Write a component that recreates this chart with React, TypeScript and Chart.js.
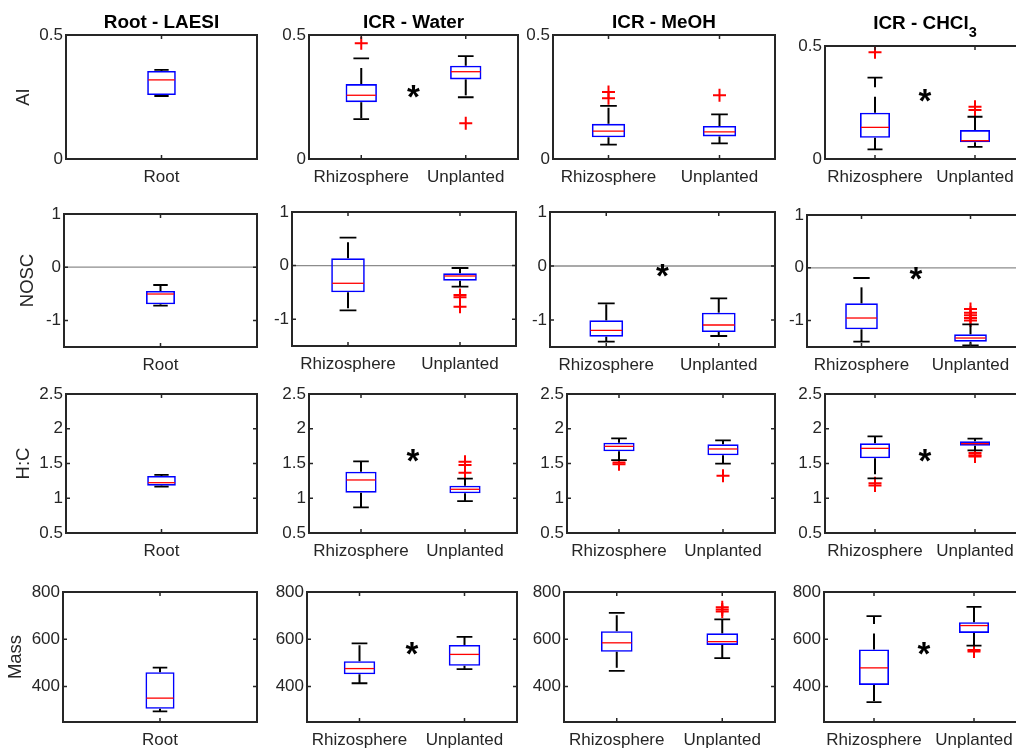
import { useEffect, useRef } from 'react';
import { Chart, registerables } from 'chart.js';

Chart.register(...registerables);

const FONT = '"Liberation Sans", Arial, Helvetica, sans-serif';
const INK = '#262626';

// ---- categories ----
const ROOT_GROUPS = ['Root'];
const ICR_GROUPS = ['Rhizosphere', 'Unplanted'];

// ---- column titles (the subscript part is drawn smaller and lower) ----
const COLUMN_TITLES = ['Root - LAESI', 'ICR - Water', 'ICR - MeOH', 'ICR - CHCl'];
const COLUMN_SUBSCRIPTS = ['', '', '', '3'];

// ---- rows: metric name, y limits, tick labels ----
const METRICS = ['AI', 'NOSC', 'H:C', 'Mass'];
const Y_MIN = [0, -1.5, 0.5, 250];
const Y_MAX = [0.5, 1, 2.5, 800];
const AI_TICKS = [0, 0.5];
const NOSC_TICKS = [-1, 0, 1];
const HC_TICKS = [0.5, 1, 1.5, 2, 2.5];
const MASS_TICKS = [400, 600, 800];
const NOSC_REFERENCE = 0;

// Box statistics, one entry per group: [lower whisker, Q1, median, Q3, upper whisker]
const AI_ROOT = [[0.254, 0.258, 0.319, 0.355, 0.359]];
const AI_WATER = [[0.161, 0.229, 0.257, 0.302, 0.406], [0.249, 0.321, 0.352, 0.376, 0.415]];
const AI_MEOH = [[0.058, 0.0875, 0.112, 0.142, 0.214], [0.063, 0.091, 0.109, 0.133, 0.18]];
const AI_CHCL3 = [[0.043, 0.094, 0.14, 0.205, 0.36], [0.054, 0.074, 0.081, 0.128, 0.187]];

const NOSC_ROOT = [[-0.723, -0.698, -0.504, -0.447, -0.335]];
const NOSC_WATER = [[-0.834, -0.498, -0.33, 0.136, 0.521], [-0.393, -0.281, -0.194, -0.144, -0.045]];
const NOSC_MEOH = [[-1.401, -1.309, -1.191, -1.006, -0.691], [-1.296, -1.222, -1.093, -0.864, -0.599]];
const NOSC_CHCL3 = [[-1.4, -1.165, -0.951, -0.673, -0.193], [-1.468, -1.4, -1.33, -1.26, -1.07]];

const HC_ROOT = [[1.166, 1.181, 1.224, 1.32, 1.335]];
const HC_WATER = [[0.87, 1.08, 1.263, 1.382, 1.532], [0.96, 1.071, 1.129, 1.181, 1.281]];
const HC_MEOH = [[1.55, 1.675, 1.747, 1.8, 1.862], [1.497, 1.618, 1.709, 1.776, 1.834]];
const HC_CHCL3 = [[1.287, 1.575, 1.718, 1.79, 1.891], [1.69, 1.756, 1.785, 1.819, 1.857]];

const MASS_ROOT = [[295, 306, 351, 461, 480]];
const MASS_WATER = [[414, 452, 476, 507, 583], [474, 488, 536, 576, 610]];
const MASS_MEOH = [[466, 547, 585, 634, 712], [520, 576, 590, 625, 684]];
const MASS_CHCL3 = [[334, 407, 479, 557, 698], [573, 627, 658, 672, 737]];

// Outliers, one list per group
const AI_ROOT_OUT = [[]];
const AI_WATER_OUT = [[0.467], [0.144]];
const AI_MEOH_OUT = [[0.27, 0.245], [0.257]];
const AI_CHCL3_OUT = [[0.472], [0.231, 0.217]];

const NOSC_ROOT_OUT = [[]];
const NOSC_WATER_OUT = [[], [-0.549, -0.592, -0.767]];
const NOSC_MEOH_OUT = [[], []];
const NOSC_CHCL3_OUT = [[], [-0.78, -0.85, -0.9, -0.95, -1.0]];

const HC_ROOT_OUT = [[]];
const HC_WATER_OUT = [[], [1.526, 1.48, 1.368]];
const HC_MEOH_OUT = [[1.514, 1.49], [1.325]];
const HC_CHCL3_OUT = [[1.215, 1.185], [1.65, 1.62, 1.6]];

const MASS_ROOT_OUT = [[]];
const MASS_WATER_OUT = [[], []];
const MASS_MEOH_OUT = [[], [736, 726, 717]];
const MASS_CHCL3_OUT = [[], [555, 548]];

// Significance asterisks between the two groups (null = none)
const AI_STARS = [null, 0.274, null, 0.283];
const NOSC_STARS = [null, null, -0.09, -0.1];
const HC_STARS = [null, 1.608, null, 1.608];
const MASS_STARS = [null, 563, null, 563];

type Spec = {
  groups: string[];
  boxes: number[][];
  outliers: number[][];
  star: number | null;
  ticks: number[];
  min: number;
  max: number;
  ref: number | null;
  boxWidth: number;
};

function rowSpecs(
  row: number,
  ticks: number[],
  boxes: number[][][],
  outs: number[][][],
  stars: (number | null)[],
  ref: number | null
): Spec[] {
  return boxes.map((b, col) => ({
    groups: col === 0 ? ROOT_GROUPS : ICR_GROUPS,
    boxes: b,
    outliers: outs[col],
    star: stars[col],
    ticks,
    min: Y_MIN[row],
    max: Y_MAX[row],
    ref,
    boxWidth: col === 0 ? 0.15 : 0.3,
  }));
}

const PANELS: Spec[][] = [
  rowSpecs(0, AI_TICKS, [AI_ROOT, AI_WATER, AI_MEOH, AI_CHCL3], [AI_ROOT_OUT, AI_WATER_OUT, AI_MEOH_OUT, AI_CHCL3_OUT], AI_STARS, null),
  rowSpecs(1, NOSC_TICKS, [NOSC_ROOT, NOSC_WATER, NOSC_MEOH, NOSC_CHCL3], [NOSC_ROOT_OUT, NOSC_WATER_OUT, NOSC_MEOH_OUT, NOSC_CHCL3_OUT], NOSC_STARS, NOSC_REFERENCE),
  rowSpecs(2, HC_TICKS, [HC_ROOT, HC_WATER, HC_MEOH, HC_CHCL3], [HC_ROOT_OUT, HC_WATER_OUT, HC_MEOH_OUT, HC_CHCL3_OUT], HC_STARS, null),
  rowSpecs(3, MASS_TICKS, [MASS_ROOT, MASS_WATER, MASS_MEOH, MASS_CHCL3], [MASS_ROOT_OUT, MASS_WATER_OUT, MASS_MEOH_OUT, MASS_CHCL3_OUT], MASS_STARS, null),
];

// Plot-area rectangles on the page: [left, top, right, bottom]
const PLOT_RECTS = [
  [[66, 35, 257, 159], [309, 35, 518, 159], [553, 35, 775, 159], [825, 46, 1025, 159]],
  [[64, 214, 257, 347], [292, 212, 516, 346], [550, 212, 775, 347], [807, 215, 1025, 347]],
  [[66, 394, 257, 533], [309, 394, 517, 533], [567, 394, 775, 533], [825, 394, 1025, 533]],
  [[63, 592, 257, 722], [307, 592, 517, 722], [564, 592, 775, 722], [824, 592, 1024, 722]],
];
const Y_TITLE_DIST = [42.5, 36.5, 42, 47.3];
const TITLE_BASELINE = [28, 28, 28, 29];
const PAD_L = 60;
const PAD_R = 10;
const PAD_B = 32;

function Panel({ row, col }: { row: number; col: number }) {
  const ref = useRef<HTMLCanvasElement | null>(null);
  const [l, t, r, b] = PLOT_RECTS[row][col];
  const padT = row === 0 ? t : 14;
  const w = r - l + PAD_L + PAD_R;
  const h = b - t + padT + PAD_B;

  useEffect(() => {
    const canvas = ref.current;
    if (!canvas) return;
    const spec = PANELS[row][col];
    const groups = spec.groups;
    const outlierPoints: { x: string; y: number }[] = [];
    spec.outliers.forEach((list, gi) => list.forEach((v) => outlierPoints.push({ x: groups[gi], y: v })));

    const decor = {
      id: 'boxDecor',
      beforeDatasetsDraw(chart: any) {
        if (spec.ref == null) return;
        const { ctx, chartArea: a } = chart;
        const py = chart.scales.y.getPixelForValue(spec.ref);
        ctx.save();
        ctx.strokeStyle = '#8c8c8c';
        ctx.lineWidth = 1.3;
        ctx.beginPath();
        ctx.moveTo(a.left, py);
        ctx.lineTo(a.right, py);
        ctx.stroke();
        ctx.restore();
      },
      afterDatasetsDraw(chart: any) {
        const { ctx } = chart;
        const x = chart.scales.x;
        const y = chart.scales.y;
        const bars = chart.getDatasetMeta(0).data;
        ctx.save();
        spec.boxes.forEach((s, i) => {
          const bar = bars[i];
          const cx = bar.x;
          const half = bar.width / 2;
          const [lo, q1, med, q3, hi] = s.map((v) => y.getPixelForValue(v));
          ctx.strokeStyle = '#000';
          ctx.lineWidth = 2;
          ctx.setLineDash([16, 9.5]);
          ctx.beginPath();
          ctx.moveTo(cx, q3);
          ctx.lineTo(cx, hi);
          ctx.stroke();
          ctx.beginPath();
          ctx.moveTo(cx, q1);
          ctx.lineTo(cx, lo);
          ctx.stroke();
          ctx.setLineDash([]);
          ctx.lineWidth = 1.8;
          ctx.beginPath();
          ctx.moveTo(cx - half / 2, hi);
          ctx.lineTo(cx + half / 2, hi);
          ctx.moveTo(cx - half / 2, lo);
          ctx.lineTo(cx + half / 2, lo);
          ctx.stroke();
          ctx.strokeStyle = '#ff0000';
          ctx.lineWidth = 1.3;
          ctx.beginPath();
          ctx.moveTo(cx - half + 1, med);
          ctx.lineTo(cx + half - 1, med);
          ctx.stroke();
        });
        if (spec.star != null) {
          ctx.font = `bold 33px ${FONT}`;
          ctx.fillStyle = '#000';
          ctx.textAlign = 'center';
          ctx.textBaseline = 'alphabetic';
          const m = ctx.measureText('*');
          const px = x.getPixelForValue(0.5);
          const py = y.getPixelForValue(spec.star);
          ctx.fillText('*', px, py + (m.actualBoundingBoxAscent - m.actualBoundingBoxDescent) / 2);
        }
        ctx.restore();
      },
      afterDraw(chart: any) {
        const { ctx, chartArea: a } = chart;
        const x = chart.scales.x;
        const y = chart.scales.y;
        ctx.save();
        ctx.strokeStyle = INK;
        ctx.lineWidth = 1.5;
        ctx.beginPath();
        y.ticks.forEach((tk: any) => {
          const py = y.getPixelForValue(tk.value);
          ctx.moveTo(a.left, py);
          ctx.lineTo(a.left + 4, py);
          ctx.moveTo(a.right, py);
          ctx.lineTo(a.right - 4, py);
        });
        groups.forEach((_g, i) => {
          const px = x.getPixelForValue(i);
          ctx.moveTo(px, a.top);
          ctx.lineTo(px, a.top + 4);
          ctx.moveTo(px, a.bottom);
          ctx.lineTo(px, a.bottom - 4);
        });
        ctx.stroke();
        ctx.lineWidth = 2;
        ctx.strokeRect(a.left, a.top, a.right - a.left, a.bottom - a.top);

        if (row === 0) {
          const main = COLUMN_TITLES[col];
          const sub = COLUMN_SUBSCRIPTS[col];
          const baseline = a.top - (t - TITLE_BASELINE[col]);
          ctx.fillStyle = '#000';
          ctx.textBaseline = 'alphabetic';
          ctx.textAlign = 'left';
          ctx.font = `bold 18.9px ${FONT}`;
          const w1 = ctx.measureText(main).width;
          ctx.font = `bold 14.5px ${FONT}`;
          const w2 = sub ? ctx.measureText(sub).width : 0;
          const start = (a.left + a.right) / 2 - (w1 + w2) / 2;
          ctx.font = `bold 18.9px ${FONT}`;
          ctx.fillText(main, start, baseline);
          if (sub) {
            ctx.font = `bold 14.5px ${FONT}`;
            ctx.fillText(sub, start + w1, baseline + 8);
          }
        }
        ctx.restore();
      },
    };

    const chart = new Chart(canvas, {
      type: 'bar',
      data: {
        labels: groups,
        datasets: [
          {
            type: 'bar',
            data: spec.boxes.map((s) => [s[1], s[3]]),
            backgroundColor: 'rgba(0,0,0,0)',
            borderColor: '#0000ff',
            borderWidth: 1.6,
            borderSkipped: false,
            categoryPercentage: 1,
            barPercentage: spec.boxWidth,
          },
          {
            type: 'scatter',
            data: outlierPoints,
            showLine: false,
            pointStyle: 'cross',
            pointRadius: 6.5,
            pointBorderColor: '#ff0000',
            pointBackgroundColor: '#ff0000',
            pointBorderWidth: 2,
            clip: false,
          },
        ] as any,
      },
      options: {
        responsive: false,
        animation: false,
        devicePixelRatio: 1,
        events: [],
        layout: { padding: { top: padT, right: PAD_R, left: 0, bottom: 0 } },
        plugins: {
          legend: { display: false },
          tooltip: { enabled: false },
          title: { display: false },
        },
        scales: {
          x: {
            type: 'category',
            offset: true,
            grid: { display: false, drawTicks: false },
            border: { display: false },
            ticks: {
              padding: 8,
              color: INK,
              font: { family: FONT, size: 17 },
              maxRotation: 0,
              autoSkip: false,
            },
            afterFit: (s: any) => {
              s.height = PAD_B;
            },
          },
          y: {
            type: 'linear',
            min: spec.min,
            max: spec.max,
            grid: { display: false, drawTicks: false },
            border: { display: false },
            ticks: {
              padding: 3,
              color: INK,
              font: { family: FONT, size: 17 },
              callback: (v: any) => String(v),
            },
            afterBuildTicks: (s: any) => {
              s.ticks = spec.ticks.map((v) => ({ value: v }));
            },
            afterFit: (s: any) => {
              s.width = PAD_L;
            },
            title: {
              display: col === 0,
              text: METRICS[row],
              color: INK,
              font: { family: FONT, size: 18.5, lineHeight: 1 },
              padding: { top: PAD_L - Y_TITLE_DIST[row] - 9.25, bottom: 0 },
            },
          },
        } as any,
      },
      plugins: [decor],
    });
    return () => chart.destroy();
  }, [row, col]);

  return (
    <canvas
      ref={ref}
      width={w}
      height={h}
      style={{ position: 'absolute', left: l - PAD_L, top: t - padT, width: w, height: h }}
    />
  );
}

export default function App() {
  const cells = [];
  for (let row = 0; row < 4; row++) {
    for (let col = 0; col < 4; col++) {
      cells.push(<Panel key={`${row}-${col}`} row={row} col={col} />);
    }
  }
  return (
    <div
      style={{
        position: 'absolute',
        left: 0,
        top: 0,
        width: 1016,
        height: 748,
        overflow: 'hidden',
        background: '#ffffff',
      }}
    >
      {cells}
    </div>
  );
}
